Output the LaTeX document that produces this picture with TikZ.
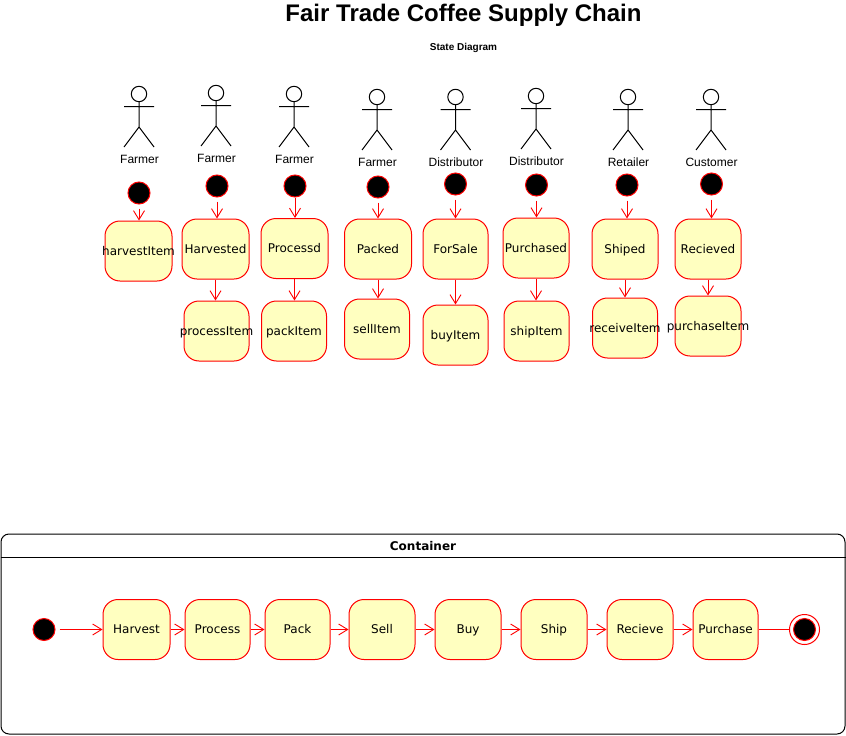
\documentclass[tikz,border=0pt]{standalone}
\usepackage{fontspec}
\setmainfont{Liberation Sans}
\newfontfamily\statefont{DejaVu Sans}
\usetikzlibrary{arrows.meta}
\definecolor{statefill}{HTML}{FFFFC0}
\tikzset{
  statebox/.style = {draw = red, fill = statefill, rounded corners = 15, line width = 1pt, inner sep = 0, text height = 10, text depth = 2, font = \statefont\fontsize{12}{14}\selectfont},
  startdot/.style = {circle, draw = red, fill = black, line width = 1pt, minimum size = 22, inner sep = 0},
  flow/.style = {draw = red, line width = 1pt, -{Straight Barb[length = 9, width = 11, line width = 0.9pt]}},
  actorlabel/.style = {inner sep = 0, text height = 9, text depth = 3, font = \fontsize{12}{14}\selectfont},
  stick/.style = {draw = black, line width = 1pt}
}
\begin{document}
\begin{tikzpicture}[x = 1pt, y = -1pt]
\useasboundingbox (0,0) rectangle (846,736);
\node[inner sep = 0, font = \bfseries\fontsize{24}{28}\selectfont] (title) at (463.5,15.5) {Fair Trade Coffee Supply Chain};
\node[inner sep = 0, font = \bfseries\fontsize{10}{12}\selectfont] (subtitle) at (463.5,48) {State Diagram};
% actors
\foreach \n/\x/\y/\who/\lby in {a1/139/94/Farmer/160.8, a2/216/93/Farmer/159.8, a3/294/94/Farmer/160.8, a4/377/97/Farmer/163.8, a5/455.5/97/Distributor/163.8, a6/536/96/Distributor/162.8, a7/628/97/Retailer/163.8, a8/711/97/Customer/163.8} {
  \draw[stick] (\x,\y) circle (7.7);
  \draw[stick] (\x,\y+7.7) -- (\x,\y+33) (\x-15,\y+12.5) -- (\x+15,\y+12.5) (\x-15,\y+53) -- (\x,\y+33) -- (\x+15,\y+53);
  \node[actorlabel] (\n) at (\x+0.5,\lby) {\who};
}
% start dots of the state diagram
\foreach \n/\x/\y in {s1/139/193, s2/217/186, s3/295/186, s4/378/187, s5/455.5/184, s6/536.5/185, s7/627/185, s8/711.5/184}
  \node[startdot] (\n) at (\x,\y) {};
% states
\foreach \n/\x/\y/\w/\txt in {
  harvestItem/138.5/251/67/harvestItem, harvested/215.5/249/67/Harvested, processd/294.5/248.5/67/Processd, packed/378/249/67/Packed,
  forsale/455.5/249/65/ForSale, purchased/536/248/66/Purchased, shiped/625/249/66/Shiped, recieved/708/249/66/Recieved,
  processItem/216.5/331/65/processItem, packItem/294/331/65/packItem, sellItem/377/329/65/sellItem, buyItem/455.5/335/65/buyItem,
  shipItem/536.5/331/65/shipItem, receiveItem/625/328/65/receiveItem, purchaseItem/708/326/66/purchaseItem,
  harvest/136.5/629.5/67/Harvest, process/217.5/629.5/65/Process, pack/297.5/629.5/65/Pack, sell/382/629.5/66/Sell,
  buy/468/629.5/66/Buy, ship/554/629.5/66/Ship, recieve/640/629.5/66/Recieve, purchase/725.5/629.5/65/Purchase}
  \node[statebox, minimum width = \w, minimum height = 60] (\n) at (\x,\y) {\makebox[0pt]{\txt}};
% connectors, gap is left between the source and the line
\foreach \a/\b/\gap in {s1/harvestItem/4, s2/harvested/4, s3/processd/0, s4/packed/4, s5/forsale/4, s6/purchased/4, s7/shiped/4, s8/recieved/4,
  harvested/processItem/0, processd/packItem/0, packed/sellItem/0, forsale/buyItem/0, purchased/shipItem/0, shiped/receiveItem/0, recieved/purchaseItem/0}
  \draw[flow, shorten <= \gap] (\a) -- (\a |- \b.north);
% container
\node[draw = black, rounded corners = 8, line width = 1pt, minimum width = 844, minimum height = 200, inner sep = 0] (container) at (423,634) {};
\coordinate (headl) at (container.west |- 0,557);
\coordinate (headr) at (container.east |- 0,557);
\draw[line width = 1pt] (headl) -- (headr);
\node[inner sep = 0, font = \statefont\bfseries\fontsize{12}{14}\selectfont] (containerlabel) at (423,546) {Container};
\node[startdot] (start) at (44,629.5) {};
\node[circle, draw = red, line width = 1pt, minimum size = 30, inner sep = 0] (endring) at (804.5,629.5) {};
\node[startdot] (enddot) at (804.5,629.5) {};
\draw[flow, shorten <= 4] (start) -- (harvest);
\foreach \a/\b in {harvest/process, process/pack, pack/sell, sell/buy, buy/ship, ship/recieve, recieve/purchase}
  \draw[flow] (\a) -- (\b);
\draw[red, line width = 1pt] (purchase) -- (endring);
\end{tikzpicture}
\end{document}
